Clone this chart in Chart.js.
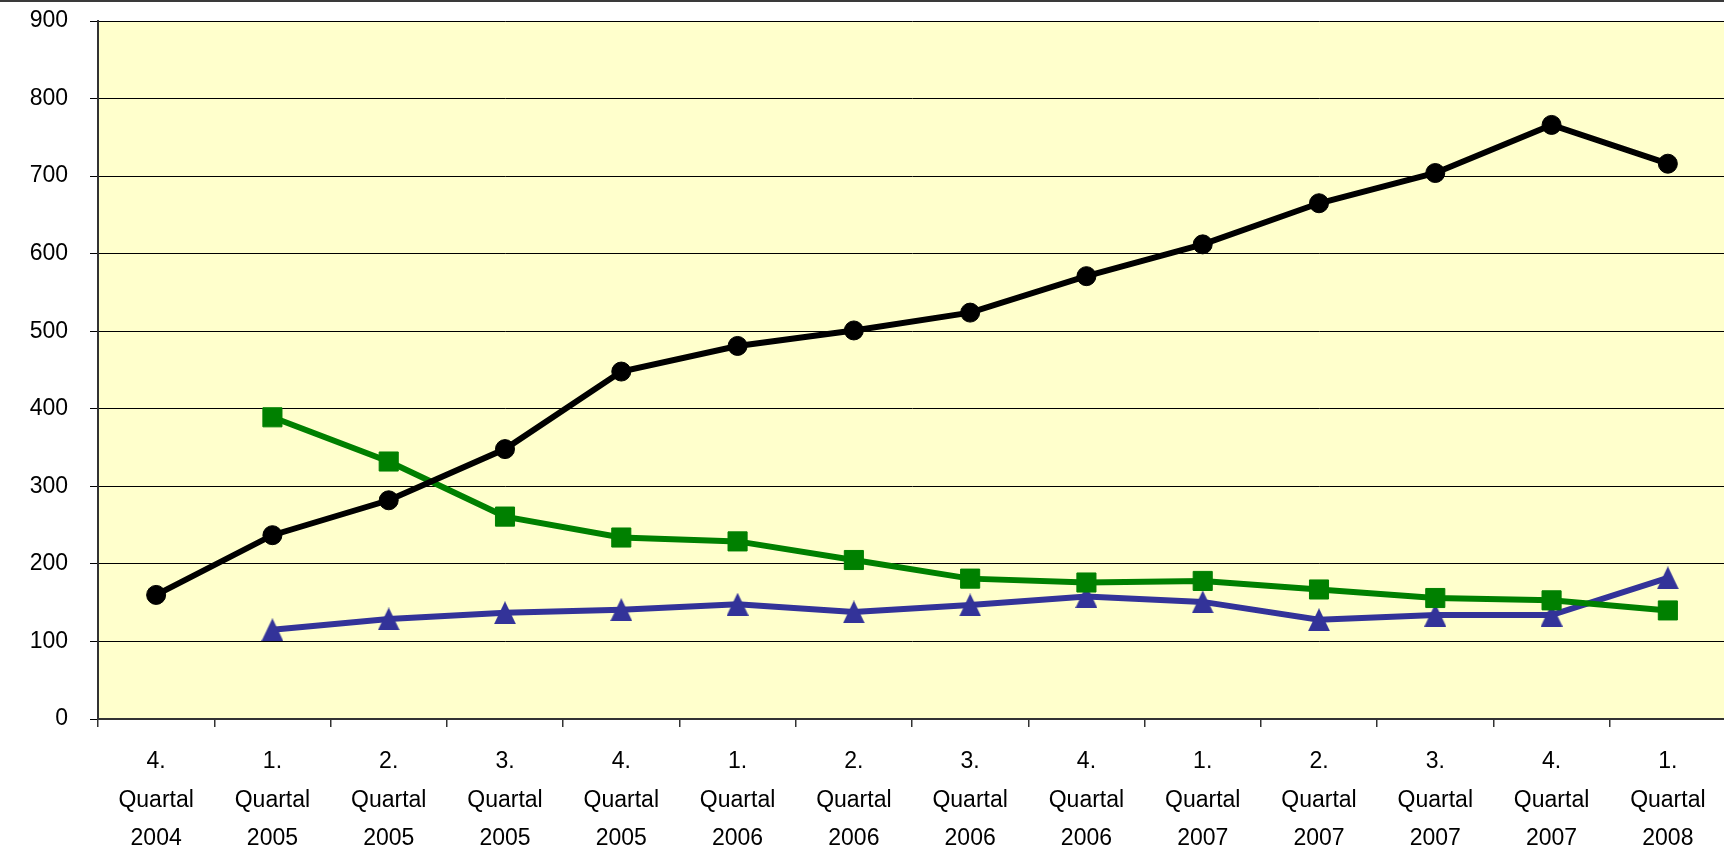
<!DOCTYPE html>
<html>
<head>
<meta charset="utf-8">
<script src="https://cdn.jsdelivr.net/npm/chart.js@4"></script>
<style>
  html, body { margin: 0; padding: 0; background: #ffffff; overflow: hidden; }
  #wrap { position: relative; width: 1726px; height: 849px; }
</style>
</head>
<body>
<div id="wrap"><canvas id="chart" width="1726" height="849"></canvas></div>
<script>
// Quarter / year parts of each category label
const quarters = ['4.', '1.', '2.', '3.', '4.', '1.', '2.', '3.', '4.', '1.', '2.', '3.', '4.', '1.'];
const years    = ['2004', '2005', '2005', '2005', '2005', '2006', '2006', '2006', '2006', '2007', '2007', '2007', '2007', '2008'];

// Series values per quarter
const seriesBlack = [160, 237, 282, 348, 448, 481, 501, 524, 571, 612, 665, 704, 766, 716];
const seriesGreen = [null, 389, 332, 261, 234, 229, 205, 181, 176, 178, 167, 156, 153, 140];
const seriesBlue  = [null, 115, 129, 137, 141, 148, 138, 147, 158, 151, 128, 134, 134, 182];

// Value axis ticks
const yTicks = [0, 100, 200, 300, 400, 500, 600, 700, 800, 900];

const labels = quarters.map((q, i) => [q, 'Quartal', years[i]]);

// Upright triangle marker, centred on its bounding box
function triangleMarker(w, h, color) {
  const c = document.createElement('canvas');
  c.width = w; c.height = h;
  const g = c.getContext('2d');
  g.fillStyle = color;
  g.beginPath();
  g.moveTo(w / 2, 0);
  g.lineTo(w, h);
  g.lineTo(0, h);
  g.closePath();
  g.fill();
  return c;
}

const plotBackground = {
  id: 'plotBackground',
  beforeDraw(chart) {
    const { ctx, chartArea: a } = chart;
    ctx.save();
    ctx.fillStyle = '#FFFFCC';
    ctx.fillRect(a.left, a.top, a.right - a.left, a.bottom - a.top);
    ctx.restore();
  },
  afterDraw(chart) {
    const ctx = chart.ctx;
    ctx.save();
    ctx.fillStyle = '#3a3a3a';
    ctx.fillRect(0, 0, chart.width, 2);
    ctx.restore();
  }
};

const font = { family: '"Liberation Sans", Arial, sans-serif', size: 23 };

new Chart(document.getElementById('chart'), {
  type: 'line',
  data: {
    labels: labels,
    datasets: [
      {
        data: seriesBlack,
        borderColor: '#000000',
        backgroundColor: '#000000',
        borderWidth: 6,
        pointStyle: 'circle',
        pointRadius: 9.5,
        pointBorderWidth: 1,
        pointBorderColor: '#000000',
        pointBackgroundColor: '#000000'
      },
      {
        data: seriesGreen,
        borderColor: '#008000',
        backgroundColor: '#008000',
        borderWidth: 6,
        pointStyle: 'rect',
        pointRadius: 13.5,
        pointBorderWidth: 1,
        pointBorderColor: '#008000',
        pointBackgroundColor: '#008000'
      },
      {
        data: seriesBlue,
        borderColor: '#333399',
        backgroundColor: '#333399',
        borderWidth: 6,
        pointStyle: triangleMarker(22, 23, '#333399'),
        pointRadius: 11
      }
    ]
  },
  options: {
    responsive: false,
    animation: false,
    events: [],
    layout: { autoPadding: false, padding: { top: 21, left: 0, right: 0, bottom: 0 } },
    plugins: {
      legend: { display: false },
      tooltip: { enabled: false }
    },
    scales: {
      x: {
        offset: true,
        grid: {
          offset: true,
          drawOnChartArea: false,
          drawTicks: true,
          tickLength: 8,
          color: '#333333',
          lineWidth: 1.5
        },
        border: { display: true, color: '#333333', width: 2 },
        ticks: {
          color: '#000000',
          font: Object.assign({ lineHeight: 1.66 }, font),
          padding: 16,
          maxRotation: 0,
          autoSkip: false
        },
        afterFit(s) { s.height = 130; s.paddingLeft = 0; s.paddingRight = 0; }
      },
      y: {
        min: 0,
        max: 900,
        afterBuildTicks(s) { s.ticks = yTicks.map(v => ({ value: v })); },
        grid: {
          color: '#000000',
          lineWidth: 1,
          tickLength: 8,
          drawTicks: true
        },
        border: { display: true, color: '#333333', width: 2 },
        ticks: {
          color: '#000000',
          font: font,
          padding: 22
        },
        afterFit(s) { s.width = 98; s.paddingTop = 0; s.paddingBottom = 0; }
      }
    }
  },
  plugins: [plotBackground]
});
</script>
</body>
</html>
